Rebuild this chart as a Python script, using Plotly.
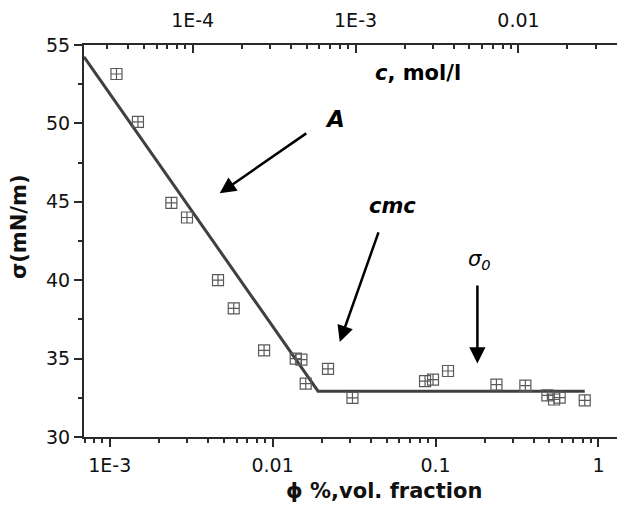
import numpy as np
import plotly.graph_objects as go

# ---- data ----
phi = [0.00110, 0.00149, 0.00239, 0.00298, 0.00462, 0.00577, 0.00886, 0.01386,
       0.01502, 0.01596, 0.02188, 0.0309, 0.0862, 0.0965, 0.1193, 0.2365,
       0.356, 0.486, 0.534, 0.578, 0.824]
sigma = [53.15, 50.1, 44.93, 44.0, 40.0, 38.2, 35.53, 35.0,
         34.94, 33.41, 34.34, 32.49, 33.56, 33.66, 34.21, 33.34,
         33.28, 32.66, 32.39, 32.51, 32.34]

fit_phi = [0.000695, 0.019, 0.824]
fit_sigma = [54.25, 32.92, 32.92]

# concentration (top axis) = phi * factor
c_factor = 10 ** -1.509

x_tickvals = [0.001, 0.01, 0.1, 1]
x_ticktext = ["1E-3", "0.01", "0.1", "1"]
x2_tickvals = [1e-4, 1e-3, 1e-2]
x2_ticktext = ["1E-4", "1E-3", "0.01"]
y_tickvals = [30, 35, 40, 45, 50, 55]

# annotation arrows: (log10 phi head, sigma head, log10 phi tail, sigma tail)
arrow_A = (-2.325, 45.54, -1.7845, 49.43)
arrow_cmc = (-1.588, 36.06, -1.347, 43.15)
arrow_s0 = (-0.743, 34.68, -0.743, 39.75)

FONT = "DejaVu Sans"
AXC = "#2a2a2a"


def minor_vals(lo, hi):
    vals = []
    for d in range(lo, hi + 1):
        for m in range(2, 10):
            vals.append(m * 10.0 ** d)
    return vals


fig = go.Figure()
fig.add_trace(go.Scatter(x=fit_phi, y=fit_sigma, mode="lines",
                         line=dict(color="#404040", width=3),
                         showlegend=False, hoverinfo="skip"))
fig.add_trace(go.Scatter(x=phi, y=sigma, mode="markers",
                         marker=dict(symbol="square-cross-open", size=11,
                                     color="#5a5a5a", line=dict(width=1.2)),
                         showlegend=False))
# invisible trace to carry the top concentration axis
fig.add_trace(go.Scatter(x=[p * c_factor for p in phi], y=sigma, xaxis="x2",
                         mode="markers", marker=dict(opacity=0),
                         showlegend=False, hoverinfo="skip"))

fig.update_layout(
    width=617, height=506,
    margin=dict(l=84, r=0, t=45, b=69),
    plot_bgcolor="white", paper_bgcolor="white",
    font=dict(family=FONT, size=19, color="#111"),
    xaxis=dict(type="log", range=[-3.158, 0.114], automargin=False,
               tickvals=x_tickvals, ticktext=x_ticktext,
               ticks="outside", ticklen=8, tickwidth=2, tickcolor=AXC,
               minor=dict(tickvals=minor_vals(-4, 0), ticks="outside",
                          ticklen=4, tickwidth=1.5, tickcolor=AXC),
               showline=True, linewidth=2, linecolor=AXC,
               showgrid=False, zeroline=False, ticklabelstandoff=2),
    xaxis2=dict(type="log", overlaying="x", side="top", automargin=False,
                range=[-4.667, -1.395],
                tickvals=x2_tickvals, ticktext=x2_ticktext,
                ticks="inside", ticklen=8, tickwidth=2, tickcolor=AXC,
                minor=dict(tickvals=minor_vals(-5, -2), ticks="inside",
                           ticklen=4, tickwidth=1.5, tickcolor=AXC),
                showline=True, linewidth=2, linecolor=AXC,
                showgrid=False, zeroline=False, ticklabelstandoff=8),
    yaxis=dict(range=[30, 55], tickvals=y_tickvals, automargin=False,
               ticks="outside", ticklen=8, tickwidth=2, tickcolor=AXC,
               minor=dict(dtick=2.5, ticks="outside", ticklen=4,
                          tickwidth=1.5, tickcolor=AXC),
               showline=True, linewidth=2, linecolor=AXC,
               showgrid=False, zeroline=False),
)

ann = []
for (hx, hy, tx, ty) in (arrow_A, arrow_cmc, arrow_s0):
    ann.append(dict(x=hx, y=hy, ax=tx, ay=ty, xref="x", yref="y",
                    axref="x", ayref="y", text="", showarrow=True,
                    arrowhead=2, arrowsize=1.3, arrowwidth=2.5,
                    arrowcolor="#000"))

ann += [
    dict(x=-1.109, y=53.2, xref="x", yref="y", showarrow=False,
         text="<b><i>c</i>, mol/l</b>", font=dict(size=21, color="#000")),
    dict(x=-1.619, y=50.28, xref="x", yref="y", showarrow=False,
         text="<b><i>A</i></b>", font=dict(size=23, color="#000")),
    dict(x=-1.264, y=44.74, xref="x", yref="y", showarrow=False,
         text="<b><i>cmc</i></b>", font=dict(size=21, color="#000")),
    dict(x=-0.729, y=41.28, xref="x", yref="y", showarrow=False,
         text="<i>σ<sub>0</sub></i>", font=dict(size=21, color="#000")),
    dict(x=0.563, y=-0.137, xref="paper", yref="paper", showarrow=False,
         text="<b>ϕ %,vol. fraction</b>", font=dict(size=21, color="#111"),
         xanchor="center", yanchor="middle"),
    dict(x=-0.122, y=0.538, xref="paper", yref="paper", showarrow=False,
         text="<b>σ(mN/m)</b>", textangle=-90, font=dict(size=21, color="#111"),
         xanchor="center", yanchor="middle"),
]
fig.update_layout(annotations=ann)

fig.write_html("out.html",
               config={"displayModeBar": False},
               post_script="document.body.style.margin='0';"
                           "document.body.style.overflow='hidden';")
